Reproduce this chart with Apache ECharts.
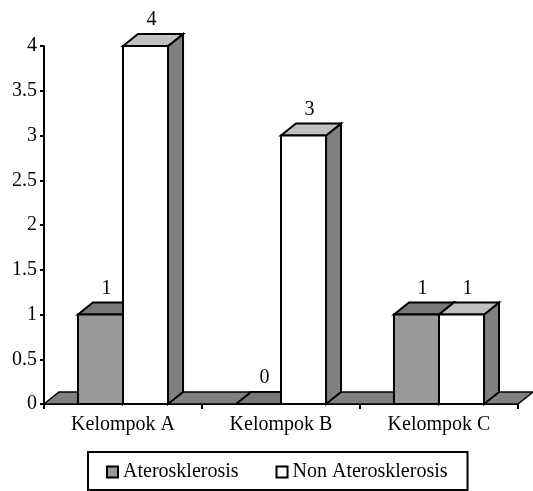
<!DOCTYPE html>
<html>
<head>
<meta charset="utf-8">
<script src="https://cdn.jsdelivr.net/npm/echarts@6/dist/echarts.min.js"></script>
<style>
html,body{margin:0;padding:0;background:#fff;}
#chart{width:533px;height:491px;}
</style>
</head>
<body>
<div id="chart"></div>
<script>
// ---- data ----
const categories = ['Kelompok A', 'Kelompok B', 'Kelompok C'];
const seriesNames = ['Aterosklerosis', 'Non Aterosklerosis'];
const ateroValues = [1, 0, 1];
const nonAteroValues = [4, 3, 1];

// ---- style ----
const FONT = "'Liberation Serif', 'DejaVu Serif', serif";
const FS = 20;
const DX = 15, DY = -12;          // depth offset for 3D look
const BAR_FRAC = 0.285;           // bar width as a fraction of the category band

const chart = echarts.init(document.getElementById('chart'), null, {renderer: 'canvas'});

function barRenderer(side, frontColor, topColor, sideColor) {
  return function (params, api) {
    const cat = api.value(0), val = api.value(1);
    const base = api.coord([cat, 0]);
    const top = api.coord([cat, val]);
    const bw = api.size([1, 0])[0] * BAR_FRAC;
    const x0 = side < 0 ? base[0] - bw : base[0];
    const x1 = x0 + bw;
    const ty = top[1], by = base[1];
    const stroke = {stroke: '#000', lineWidth: 2, lineJoin: 'miter'};
    const children = [];
    if (by - ty > 0.5) {
      children.push({type: 'polygon', shape: {points: [[x1, ty], [x1 + DX, ty + DY], [x1 + DX, by + DY], [x1, by]]},
        style: Object.assign({fill: sideColor}, stroke)});
    }
    children.push({type: 'polygon', shape: {points: [[x0, ty], [x1, ty], [x1 + DX, ty + DY], [x0 + DX, ty + DY]]},
      style: Object.assign({fill: topColor}, stroke)});
    if (by - ty > 0.5) {
      children.push({type: 'rect', shape: {x: x0, y: ty, width: bw, height: by - ty},
        style: Object.assign({fill: frontColor}, stroke)});
    }
    children.push({type: 'text', style: {text: String(val), x: x0 + bw / 2 + 6, y: ty + DY - 4,
      textAlign: 'center', textVerticalAlign: 'bottom', font: FS + 'px ' + FONT, fill: '#000'}});
    return {type: 'group', children: children};
  };
}

function floorRenderer(params, api) {
  const first = api.coord([0, 0]);
  const last = api.coord([categories.length - 1, 0]);
  const band = api.size([1, 0])[0];
  const L = first[0] - band / 2, R = last[0] + band / 2, y = first[1];
  return {type: 'polygon', shape: {points: [[L, y], [R, y], [R + DX, y + DY], [L + DX, y + DY]]},
    style: {fill: '#808080', stroke: '#000', lineWidth: 1.5}};
}

const option = {
  animation: false,
  backgroundColor: '#fff',
  grid: {left: 44, right: 15, top: 46, bottom: 87},
  xAxis: {
    type: 'category', data: categories, boundaryGap: true,
    axisLine: {show: true, lineStyle: {color: '#000', width: 2}},
    axisTick: {show: true, length: 5, lineStyle: {color: '#000', width: 2}},
    axisLabel: {color: '#000', fontFamily: FONT, fontSize: FS, margin: 11},
    splitLine: {show: false}
  },
  yAxis: {
    type: 'value', min: 0, max: 4, interval: 0.5,
    axisLine: {show: true, lineStyle: {color: '#000', width: 2}},
    axisTick: {show: true, length: 4, lineStyle: {color: '#000', width: 2}},
    axisLabel: {color: '#000', fontFamily: FONT, fontSize: FS, margin: 7},
    splitLine: {show: false}
  },
  legend: {
    left: 88, top: 452,
    padding: [10, 20, 8, 18],
    borderColor: '#000', borderWidth: 2,
    itemGap: 37, itemWidth: 11, itemHeight: 11,
    icon: 'rect',
    textStyle: {color: '#000', fontFamily: FONT, fontSize: FS},
    data: [
      {name: seriesNames[0], itemStyle: {color: '#999999', borderColor: '#000', borderWidth: 2}},
      {name: seriesNames[1], itemStyle: {color: '#ffffff', borderColor: '#000', borderWidth: 2}}
    ]
  },
  series: [
    {
      type: 'custom', name: 'floor', clip: false, z: 1, silent: true,
      renderItem: floorRenderer,
      data: [[0, 0]]
    },
    {
      type: 'custom', name: seriesNames[0], clip: false, z: 2,
      itemStyle: {color: '#999999'},
      renderItem: barRenderer(-1, '#999999', '#777777', '#808080'),
      encode: {x: 0, y: 1},
      data: ateroValues.map((v, i) => [i, v])
    },
    {
      type: 'custom', name: seriesNames[1], clip: false, z: 3,
      itemStyle: {color: '#ffffff'},
      renderItem: barRenderer(1, '#ffffff', '#c0c0c0', '#808080'),
      encode: {x: 0, y: 1},
      data: nonAteroValues.map((v, i) => [i, v])
    }
  ]
};
chart.setOption(option);
</script>
</body>
</html>
